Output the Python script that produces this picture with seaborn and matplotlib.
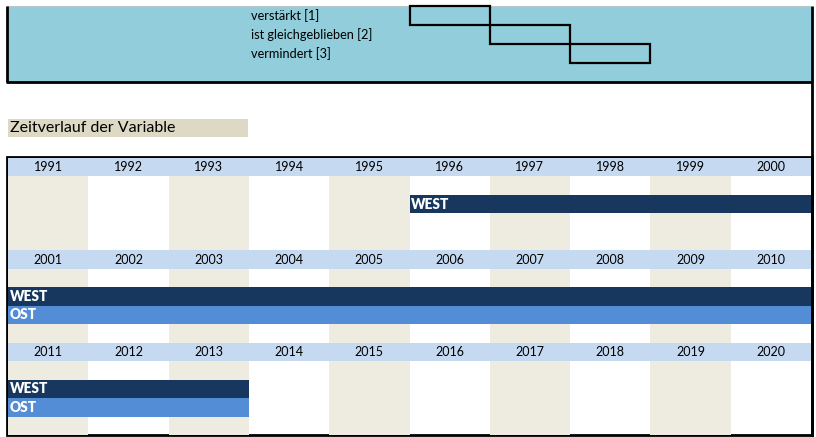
import matplotlib
matplotlib.use("Agg")
import matplotlib.pyplot as plt
from matplotlib.patches import Rectangle
import seaborn as sns

# ---------------- data ----------------
years = list(range(1991, 2021))
series_names = ["WEST", "OST"]
series_start = [1996, 2001]
series_end = [2013, 2013]
series_colors = ["#17375E", "#538DD5"]
legend_labels = ["verstärkt [1]", "ist gleichgeblieben [2]", "vermindert [3]"]
title_text = "Zeitverlauf der Variable"

YEARS_PER_ROW = 10
ROWS_PER_BLOCK = 5

sns.set_theme(style="white")
plt.rcParams["font.family"] = ["Lato", "DejaVu Sans"]

W, H = 816, 437
fig = plt.figure(figsize=(W / 100, H / 100), dpi=100)

# background / decoration axes in pixel units
bg = fig.add_axes([0, 0, 1, 1])
bg.set_xlim(0, W)
bg.set_ylim(H, 0)
bg.axis("off")

# table geometry (pixels)
tx0, tx1, ty0, ty1 = 8, 811, 158, 435
n_blocks = len(years) // YEARS_PER_ROW
n_rows = n_blocks * ROWS_PER_BLOCK
col_w = (tx1 - tx0) / YEARS_PER_ROW

# top teal band
bg.add_patch(Rectangle((7, 6), 804, 76, facecolor="#92CDDC", edgecolor="none", zorder=1))
bg.plot([7, 811], [6, 6], color="#B8C8CC", lw=0.8, zorder=2, solid_capstyle="butt")
bg.plot([7, 7], [6, 82], color="black", lw=2, zorder=3, solid_capstyle="butt")
bg.plot([6, 812], [82, 82], color="black", lw=2, zorder=3, solid_capstyle="butt")
bg.plot([811.5, 811.5], [6, 437], color="black", lw=2, zorder=3, solid_capstyle="butt")

# legend: labels + stepped boxes aligned with table columns 6..8
leg_row_h = 19
for i, lab in enumerate(legend_labels):
    yc = 6 + leg_row_h * (i + 0.5)
    bg.text(tx0 + 3 * col_w + 2, yc, lab, fontsize=9.2, ha="left", va="center",
            color="#000000", zorder=4)
    bx = tx0 + (5 + i) * col_w
    bg.add_patch(Rectangle((bx, 6 + leg_row_h * i), col_w, leg_row_h,
                           facecolor="none", edgecolor="black", lw=1.6, zorder=4))

# title cell
bg.add_patch(Rectangle((8, 119), 240, 18, facecolor="#DDD9C4", edgecolor="none", zorder=1))
bg.text(10, 128, title_text, fontsize=11.5, ha="left", va="center", color="#000000", zorder=4)

# ---------------- table axes ----------------
ax = fig.add_axes([tx0 / W, 1 - ty1 / H, (tx1 - tx0) / W, (ty1 - ty0) / H])
ax.set_xlim(0, YEARS_PER_ROW)
ax.set_ylim(n_rows, 0)
ax.axis("off")

# alternating column shading
for c in range(YEARS_PER_ROW):
    if c % 2 == 0:
        ax.axvspan(c, c + 1, color="#EEECE1", lw=0, zorder=0)

for b in range(n_blocks):
    base = b * ROWS_PER_BLOCK
    # header band with years
    ax.barh(base, YEARS_PER_ROW, left=0, height=1, align="edge",
            color="#C5D9F1", lw=0, zorder=1)
    for c in range(YEARS_PER_ROW):
        yr = years[b * YEARS_PER_ROW + c]
        ax.text(c + 0.5, base + 0.5, str(yr), ha="center", va="center",
                fontsize=9, color="#000000", zorder=3)
    # series bars
    b_start = years[b * YEARS_PER_ROW]
    b_end = years[b * YEARS_PER_ROW + YEARS_PER_ROW - 1]
    for s, (name, s0, s1, col) in enumerate(zip(series_names, series_start,
                                                series_end, series_colors)):
        lo, hi = max(s0, b_start), min(s1, b_end)
        if lo > hi:
            continue
        left = lo - b_start
        width = hi - lo + 1
        row = base + 2 + s
        ax.barh(row, width, left=left, height=1, align="edge", color=col, lw=0, zorder=2)
        ax.text(left + 0.02, row + 0.5, name, ha="left", va="center",
                fontsize=9.8, fontweight="heavy", color="white", zorder=3)

# table border
bg.add_patch(Rectangle((7, 157), 804.5, 278, facecolor="none", edgecolor="black",
                       lw=2, zorder=5))

fig.savefig("out.png", dpi=100)
